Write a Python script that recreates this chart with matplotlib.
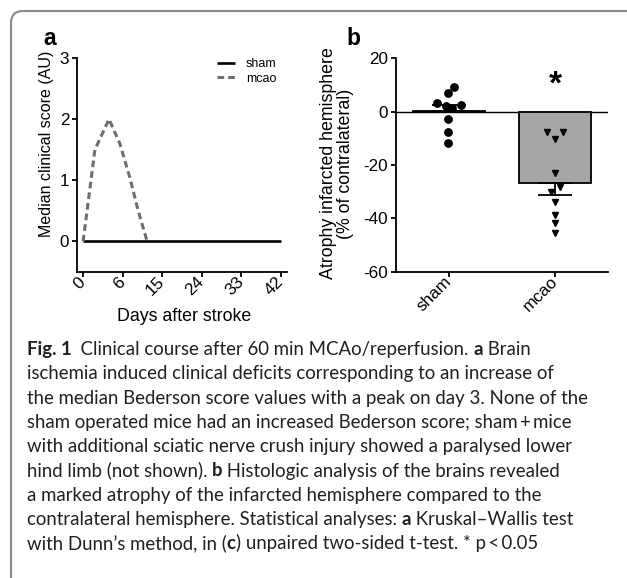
import numpy as np
import matplotlib
matplotlib.use("Agg")
import matplotlib.pyplot as plt
from matplotlib.patches import FancyBboxPatch
from matplotlib.transforms import IdentityTransform

plt.rcParams['font.family'] = ['Liberation Sans', 'DejaVu Sans']
plt.rcParams['lines.scale_dashes'] = False
plt.rcParams['axes.unicode_minus'] = False

# panel a: median clinical score over time
day_labels = [0, 6, 15, 24, 33, 42]
sham_day = [0, 42]
sham_score = [0, 0]
mcao_day = [0, 2.5, 5.5, 7.8, 9.9, 11.7, 13.6]
mcao_score = [0, 1.5, 2.0, 1.6, 1.05, 0.5, 0]

# panel b: atrophy of infarcted hemisphere (% of contralateral)
groups = ["sham", "mcao"]
sham_atrophy = [9.4, 7.1, 3.1, 2.1, 1.3, 2.5, -2.9, -7.5, -11.6]
mcao_atrophy = [-7.75, -7.75, -10.25, -23.1, -30.0, -28.4, -33.75, -38.75, -41.9, -45.6]
sham_jitter = [0.05, -0.01, -0.11, -0.03, 0.03, 0.11, -0.01, -0.01, -0.01]
mcao_jitter = [-0.08, 0.08, 0, 0, -0.035, 0.045, 0, 0, 0, 0]

W, H = 627, 578
fig = plt.figure(figsize=(W / 100, H / 100), dpi=100)


def px_axes(left, top, right, bottom):
    return fig.add_axes([left / W, 1 - bottom / H, (right - left) / W, (bottom - top) / H])


def style_axes(ax):
    for s in ['top', 'right']:
        ax.spines[s].set_visible(False)
    for s in ['left', 'bottom']:
        ax.spines[s].set_linewidth(1.3)
    ax.tick_params(direction='out', length=3.6, width=1.3, labelsize=12.3, pad=2)


# ---- panel a
ax_a = px_axes(77, 58, 287, 272)
ax_a.plot(sham_day, sham_score, color='black', lw=1.9, label='sham', solid_capstyle='butt')
ax_a.plot(mcao_day, mcao_score, color='#6e6e6e', lw=2.2, dashes=(4.8, 2.9), label='mcao')
ax_a.set_xlim(-1.3, 43.3)
ax_a.set_ylim(-0.5, 3)
ax_a.set_xticks(np.linspace(day_labels[0], day_labels[-1], len(day_labels)))
ax_a.set_xticklabels(day_labels, rotation=45, ha='right', va='center', rotation_mode='anchor')
ax_a.set_yticks([0, 1, 2, 3])
style_axes(ax_a)
ax_a.set_ylabel('Median clinical score (AU)', fontsize=11.5)
ax_a.yaxis.set_label_coords(-0.11, 0.6)
ax_a.set_xlabel('Days after stroke', fontsize=12.8)
ax_a.xaxis.set_label_coords(0.51, -0.17)
ax_a.legend(loc='upper left', bbox_to_anchor=(0.665, 1.0), frameon=False, fontsize=9,
            handlelength=1.45, handletextpad=0.9, labelspacing=0.2, borderpad=0,
            borderaxespad=0)

# ---- panel b
ax_b = px_axes(396, 58.3, 608, 271.7)
xpos = np.arange(len(groups))
data = [sham_atrophy, mcao_atrophy]
means = [np.mean(v) for v in data]
sems = [np.std(v, ddof=1) / np.sqrt(len(v)) for v in data]
ax_b.axhline(0, color='black', lw=1.0, zorder=1)
ax_b.bar(xpos, means, width=0.67, color='#a6a6a6', edgecolor='black', lw=1.3, zorder=2)
ax_b.errorbar(xpos[0], means[0], yerr=[[0], [sems[0]]], fmt='none', ecolor='black',
              elinewidth=1.3, capsize=12, capthick=1.3, zorder=3)
ax_b.errorbar(xpos[1], means[1], yerr=[[sems[1]], [0]], fmt='none', ecolor='black',
              elinewidth=1.3, capsize=12, capthick=1.3, zorder=3)
ax_b.plot(xpos[0] + np.array(sham_jitter), sham_atrophy, 'o', ms=5.3, color='black', zorder=4)
ax_b.plot(xpos[1] + np.array(mcao_jitter), mcao_atrophy, 'v', ms=4.5, color='black', zorder=4)
ax_b.text(xpos[1], 10, '*', ha='center', va='center', fontsize=24, fontweight='bold')
ax_b.set_xlim(-0.5, 1.5)
ax_b.set_ylim(-60, 20)
ax_b.set_yticks([-60, -40, -20, 0, 20])
ax_b.set_xticks(xpos)
ax_b.set_xticklabels(groups, rotation=45, ha='right', va='center', rotation_mode='anchor')
style_axes(ax_b)
ax_b.set_ylabel('Atrophy infarcted hemisphere\n(% of contralateral)', fontsize=12.8,
                linespacing=0.95)
ax_b.yaxis.set_label_coords(-0.2, 0.507)

# panel letters
fig.text(43 / W, 1 - 45 / H, 'a', fontsize=16.5, fontweight='bold', va='baseline')
fig.text(346.7 / W, 1 - 45 / H, 'b', fontsize=16.5, fontweight='bold', va='baseline')

# frame around the figure (only top-left part visible)
frame = FancyBboxPatch((11, -40), 720, H - 11 + 40, boxstyle='round,pad=0,rounding_size=12',
                       transform=IdentityTransform(), fill=False, edgecolor='#8a8a8a', lw=1.5)
fig.add_artist(frame)

# caption
cap_ax = fig.add_axes([0, 0, 1, 1])
cap_ax.axis('off')
cap_ax.set_xlim(0, W)
cap_ax.set_ylim(H, 0)
caption = [
    [("Fig. 1", True), ("  Clinical course after 60 min MCAo/reperfusion. ", False), ("a", True), (" Brain", False)],
    [("ischemia induced clinical deficits corresponding to an increase of", False)],
    [("the median Bederson score values with a peak on day 3. None of the", False)],
    [("sham operated mice had an increased Bederson score; sham\u2009+\u2009mice", False)],
    [("with additional sciatic nerve crush injury showed a paralysed lower", False)],
    [("hind limb (not shown). ", False), ("b", True), (" Histologic analysis of the brains revealed", False)],
    [("a marked atrophy of the infarcted hemisphere compared to the", False)],
    [("contralateral hemisphere. Statistical analyses: ", False), ("a", True), (" Kruskal\u2013Wallis test", False)],
    [("with Dunn\u2019s method, in (", False), ("c", True), (") unpaired two-sided t-test. * p\u2009<\u20090.05", False)],
]
cap_font = ['Lato', 'DejaVu Sans']
for i, line in enumerate(caption):
    y = 354 + 24.3 * i
    prev = None
    for piece, bold in line:
        kw = dict(fontsize=13.4, family=cap_font, color='#231f20',
                  fontweight='bold' if bold else 'normal', va='bottom', ha='left')
        if prev is None:
            prev = cap_ax.text(26.7, y + 4, piece, **kw)
        else:
            prev = cap_ax.annotate(piece, xy=(1, 0), xycoords=prev, **kw)

fig.savefig('out.png', dpi=100)
